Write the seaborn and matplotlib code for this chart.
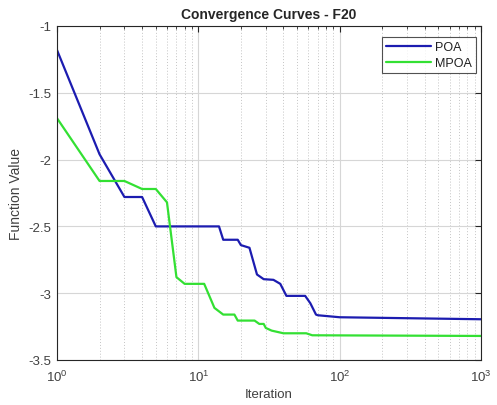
import numpy as np
import pandas as pd
import matplotlib
matplotlib.use("Agg")
import matplotlib.pyplot as plt
import seaborn as sns
from matplotlib.ticker import LogLocator, FixedLocator, FixedFormatter
from matplotlib.lines import Line2D

# Data (breakpoints of the convergence curves)
poa_iter = [1, 2, 3, 4, 5, 14, 15, 19, 20, 23, 26, 29, 34, 38, 42, 57, 62, 68, 70, 100, 1000]
poa_val = [-1.18, -1.96, -2.28, -2.28, -2.50, -2.50, -2.60, -2.60, -2.64, -2.66, -2.86,
           -2.895, -2.90, -2.93, -3.02, -3.02, -3.075, -3.16, -3.165, -3.18, -3.195]
mpoa_iter = [1, 2, 3, 4, 5, 6, 7, 8, 11, 13, 15, 18, 19, 25, 27, 29, 30, 33, 40, 58, 64, 1000]
mpoa_val = [-1.69, -2.16, -2.16, -2.22, -2.22, -2.32, -2.88, -2.93, -2.93, -3.11, -3.16,
            -3.16, -3.205, -3.205, -3.23, -3.23, -3.26, -3.28, -3.30, -3.30, -3.315, -3.32]
series_names = ["POA", "MPOA"]
yticks = [-1, -1.5, -2, -2.5, -3, -3.5]
ytick_labels = ["-1", "-1.5", "-2", "-2.5", "-3", "-3.5"]

df = pd.concat([
    pd.DataFrame({"Iteration": poa_iter, "Value": poa_val, "Algo": series_names[0]}),
    pd.DataFrame({"Iteration": mpoa_iter, "Value": mpoa_val, "Algo": series_names[1]}),
])

sns.set_style("white")
plt.rcParams["font.family"] = ["Liberation Sans", "DejaVu Sans"]
plt.rcParams["mathtext.fontset"] = "custom"
plt.rcParams["mathtext.rm"] = "Liberation Sans"
plt.rcParams["mathtext.it"] = "Liberation Sans"
plt.rcParams["mathtext.default"] = "regular"

fig = plt.figure(figsize=(4.97, 4.06), dpi=100)
ax = fig.add_axes([57 / 497, 1 - 361 / 406, (481 - 57) / 497, (361 - 27) / 406])

palette = {"POA": "#1c1cb0", "MPOA": "#33e033"}
sns.lineplot(data=df, x="Iteration", y="Value", hue="Algo", palette=palette,
             estimator=None, sort=False, linewidth=1.6, ax=ax, legend=False)

ax.set_xscale("log")
ax.set_xlim(1, 1000)
ax.set_ylim(-3.5, -1)
ax.yaxis.set_major_locator(FixedLocator(yticks))
ax.yaxis.set_major_formatter(FixedFormatter(ytick_labels))
ax.xaxis.set_major_locator(LogLocator(base=10, numticks=10))
ax.xaxis.set_minor_locator(LogLocator(base=10, subs=np.arange(2, 10), numticks=20))

ax.grid(True, which="major", color="#d6d6d6", linewidth=0.8, linestyle="-")
ax.grid(True, which="minor", axis="x", color="#c4c4c4", linewidth=0.7, linestyle=(0, (1, 2)))
ax.set_axisbelow(True)

for s in ax.spines.values():
    s.set_visible(True)
    s.set_color("#262626")
    s.set_linewidth(0.8)

ax.tick_params(axis="both", which="both", direction="in", colors="#262626",
               labelcolor="#404040", labelsize=9.5, top=True, right=True)
ax.tick_params(axis="both", which="major", length=4)
ax.tick_params(axis="x", which="minor", length=2)
ax.tick_params(axis="x", which="major", pad=6)
ax.tick_params(axis="y", which="major", pad=4)

ax.set_xlabel("Iteration", fontsize=9.5, color="#404040", labelpad=3)
ax.set_ylabel("Function Value", fontsize=10, color="#404040", labelpad=4)
ax.set_title("Convergence Curves - F20", fontsize=10, fontweight="bold", pad=6)

handles = [Line2D([0], [0], color=palette[n], linewidth=1.6) for n in series_names]
leg = ax.legend(handles, series_names, loc="upper right", bbox_to_anchor=(0.995, 0.975),
                fontsize=9, frameon=True, fancybox=False, edgecolor="#262626",
                handlelength=3.6, borderpad=0.35, labelspacing=0.3, handletextpad=0.3,
                borderaxespad=0.2)
leg.get_frame().set_linewidth(0.8)
for t in leg.get_texts():
    t.set_color("#202020")

fig.savefig("out.png", dpi=100)
